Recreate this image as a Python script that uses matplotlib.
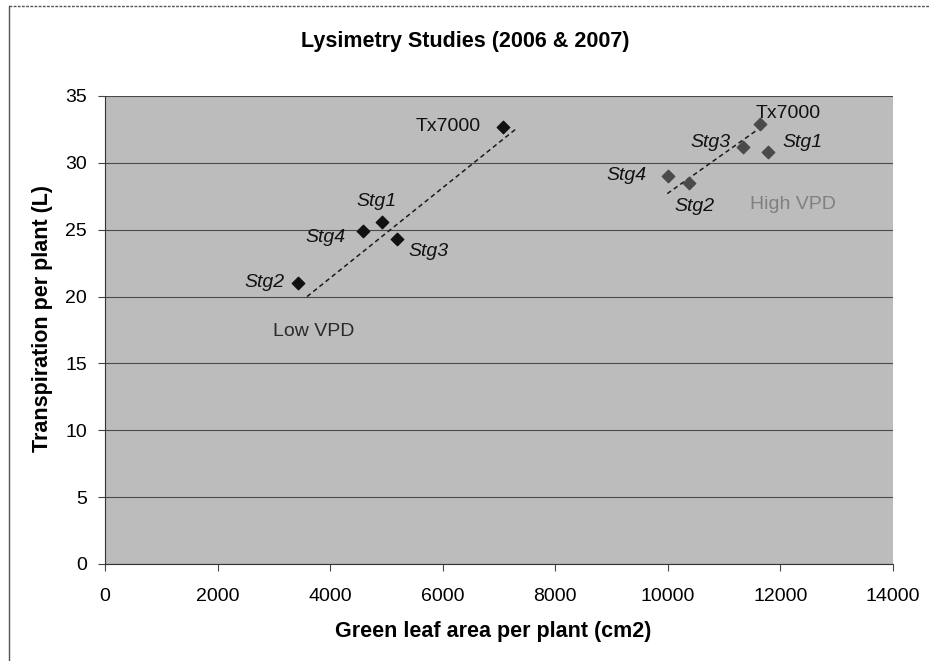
import numpy as np
import matplotlib
matplotlib.use("Agg")
import matplotlib.pyplot as plt
from matplotlib.lines import Line2D

plt.rcParams['font.family'] = ['Liberation Sans', 'DejaVu Sans']

# ---- data ----
low_labels = ["Tx7000", "Stg1", "Stg4", "Stg3", "Stg2"]
low_x = [7075, 4915, 4590, 5190, 3435]
low_y = [32.7, 25.6, 24.9, 24.3, 21.0]

high_labels = ["Tx7000", "Stg3", "Stg1", "Stg4", "Stg2"]
high_x = [11630, 11340, 11780, 10010, 10370]
high_y = [32.9, 31.2, 30.8, 29.0, 28.5]

low_trend_x = [3590, 7320]
low_trend_y = [20.0, 32.6]
high_trend_x = [9990, 11600]
high_trend_y = [27.7, 32.5]

# label positions (data coords) for each point label
low_label_x = [6100, 4830, 3910, 5740, 2840]
low_label_y = [32.7, 27.1, 24.4, 23.4, 21.05]
high_label_x = [12140, 10750, 12400, 9270, 10470]
high_label_y = [33.7, 31.5, 31.5, 29.05, 26.7]

xticks = [0, 2000, 4000, 6000, 8000, 10000, 12000, 14000]
yticks = [0, 5, 10, 15, 20, 25, 30, 35]

title = "Lysimetry Studies (2006 & 2007)"
xlabel = "Green leaf area per plant (cm2)"
ylabel = "Transpiration per plant (L)"

# ---- figure ----
W, H = 930, 661
fig = plt.figure(figsize=(W / 100, H / 100), dpi=100)
ax_l, ax_r, ax_t, ax_b = 105, 893, 96, 564
ax = fig.add_axes([ax_l / W, 1 - ax_b / H, (ax_r - ax_l) / W, (ax_b - ax_t) / H])
ax.set_facecolor('#bcbcbc')

ax.set_xlim(0, 14000)
ax.set_ylim(0, 35)
ax.set_xticks(xticks)
ax.set_yticks(yticks)
ax.set_axisbelow(True)
ax.yaxis.grid(True, color='#4a4a4a', linewidth=0.8)
ax.tick_params(axis='both', direction='out', length=5, width=0.8, color='#444444',
               labelsize=14)
ax.tick_params(axis='y', pad=8)
ax.tick_params(axis='x', pad=12)
for s in ['top', 'right']:
    ax.spines[s].set_visible(False)
for s in ['left', 'bottom']:
    ax.spines[s].set_color('#333333')
    ax.spines[s].set_linewidth(0.8)
    ax.spines[s].set_linestyle((0, (1, 1)))

# trend lines
ax.plot(low_trend_x, low_trend_y, linestyle=(0, (3, 2.2)), color='#1a1a1a', lw=1.1, zorder=3)
ax.plot(high_trend_x, high_trend_y, linestyle=(0, (3, 2.2)), color='#1a1a1a', lw=1.1, zorder=3)

# points
ax.scatter(low_x, low_y, marker='D', s=40, color='#111111', zorder=4)
ax.scatter(high_x, high_y, marker='D', s=40, color='#4a4a4a', zorder=4)

# point labels
for lab, x, y in zip(low_labels, low_label_x, low_label_y):
    ax.text(x, y, lab, fontsize=14, ha='center', va='center', color='#111111',
            style='normal' if lab == 'Tx7000' else 'italic', zorder=5)
for lab, x, y in zip(high_labels, high_label_x, high_label_y):
    ax.text(x, y, lab, fontsize=14, ha='center', va='center', color='#111111',
            style='normal' if lab == 'Tx7000' else 'italic', zorder=5)

ax.text(3700, 17.4, "Low VPD", fontsize=14, ha='center', va='center', color='#2a2a2a', zorder=5)
ax.text(12220, 26.9, "High VPD", fontsize=14, ha='center', va='center', color='#808080', zorder=5)

# titles
fig.text(465 / W, 1 - 42 / H, title, ha='center', va='center', fontsize=15.5, fontweight='bold')
fig.text(493 / W, 1 - 632 / H, xlabel, ha='center', va='center', fontsize=15.5, fontweight='bold')
fig.text(43 / W, 1 - 318 / H, ylabel, ha='center', va='center', rotation=90,
         fontsize=15.5, fontweight='bold')

# chart area border (left and top visible)
fig.add_artist(Line2D([9 / W, 9 / W], [0, 1 - 6 / H], transform=fig.transFigure,
                      color='#555555', lw=1))
fig.add_artist(Line2D([9 / W, 1], [1 - 6 / H, 1 - 6 / H], transform=fig.transFigure,
                      color='#555555', lw=1, linestyle=(0, (2, 1))))

fig.savefig("out.png", dpi=100)
